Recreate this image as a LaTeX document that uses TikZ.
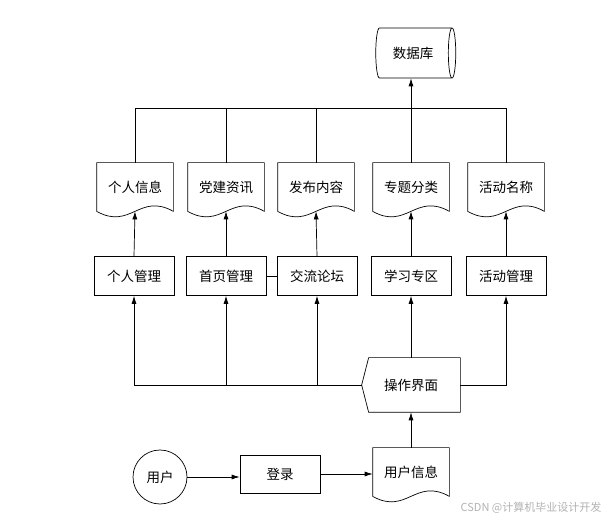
\documentclass[tikz,border=0pt]{standalone}
\usepackage{fontspec}
\newfontfamily\cjk{Noto Sans CJK SC}
\usetikzlibrary{shapes,arrows.meta,positioning,calc}

\tikzset{
    base/.style={font=\cjk\fontsize{13.5}{15}\selectfont, inner sep=2pt},
    procbox/.style={base, draw, minimum width=80pt, minimum height=39pt},
    docbox/.style={base, minimum width=76pt, minimum height=48pt},
    arr/.style={-{Latex[length=8pt,width=5pt]}},
}

\begin{document}
\begin{tikzpicture}[x=1pt, y=-1pt, line width=0.7pt]
    \useasboundingbox (0,0) rectangle (611,521);

    % Database
    \node[base, draw, cylinder, shape aspect=0.45, minimum width=50pt, minimum height=80pt] (db) at (413,53) {数据库};

    % Documents
    \node[docbox] (d1) at (135,187) {个人信息};
    \node[docbox] (d2) at (226,187) {党建资讯};
    \node[docbox] (d3) at (316,187) {发布内容};
    \node[docbox] (d4) at (411,187) {专题分类};
    \node[docbox] (d5) at (506,187) {活动名称};
    \node[docbox] (udoc) at (411,472) {用户信息};
    \foreach \n in {d1,d2,d3,d4,d5,udoc}
        \draw (\n.south west) -- (\n.north west) -- (\n.north east) -- (\n.south east)
            .. controls ($(\n.south east)+(-34pt,19pt)$) and ($(\n.south west)+(34pt,-19pt)$) .. (\n.south west);

    % Modules
    \node[procbox] (p1) at (134,276) {个人管理};
    \node[procbox] (p2) at (226,276) {首页管理};
    \node[procbox] (p3) at (317,276) {交流论坛};
    \node[procbox] (p4) at (411,276) {学习专区};
    \node[procbox] (p5) at (506,276) {活动管理};

    % Interface
    \node[base, minimum width=98pt, minimum height=54pt] (ui) at (411,385) {操作界面};
    \draw ([xshift=7pt]ui.north west) -- (ui.north east) -- (ui.south east) -- ([xshift=7pt]ui.south west) -- (ui.west) -- cycle;

    % Login
    \node[base, draw, circle, minimum size=54pt] (user) at (160,477) {用户};
    \node[procbox, minimum height=38pt] (login) at (280,474) {登录};

    % Connections to database
    \coordinate (topbus) at (411,108);
    \draw (d1.north) |- (d5.north |- topbus) -- (d5.north);
    \foreach \n in {d2,d3,d4}
        \draw (\n.north) -- (\n.north |- topbus);
    \draw[arr] (topbus) -- (topbus |- db.south);

    % Modules to documents
    \foreach \i in {1,...,5}
        \draw[arr] (p\i.north) -- (d\i.south);
    \draw (p2.east) -- (p3.west);

    % Interface to modules
    \draw (ui.west) -- (p1.south |- ui.west);
    \foreach \n in {p1,p2,p3}
        \draw[arr] (\n.south |- ui.west) -- (\n.south);
    \draw[arr] (ui.north) -- (p4.south);
    \draw[arr] (ui.east) -| (p5.south);

    % Login flow
    \draw[arr] (user) -- (user -| login.west);
    \draw[arr] (login.east) -- (login.east -| udoc.west);
    \draw[arr] (udoc.north) -- (ui.south);

    \node[font=\cjk\fontsize{11}{13}\selectfont, text=gray!60] (mark) at (531,508) {CSDN @计算机毕业设计开发};
\end{tikzpicture}
\end{document}
